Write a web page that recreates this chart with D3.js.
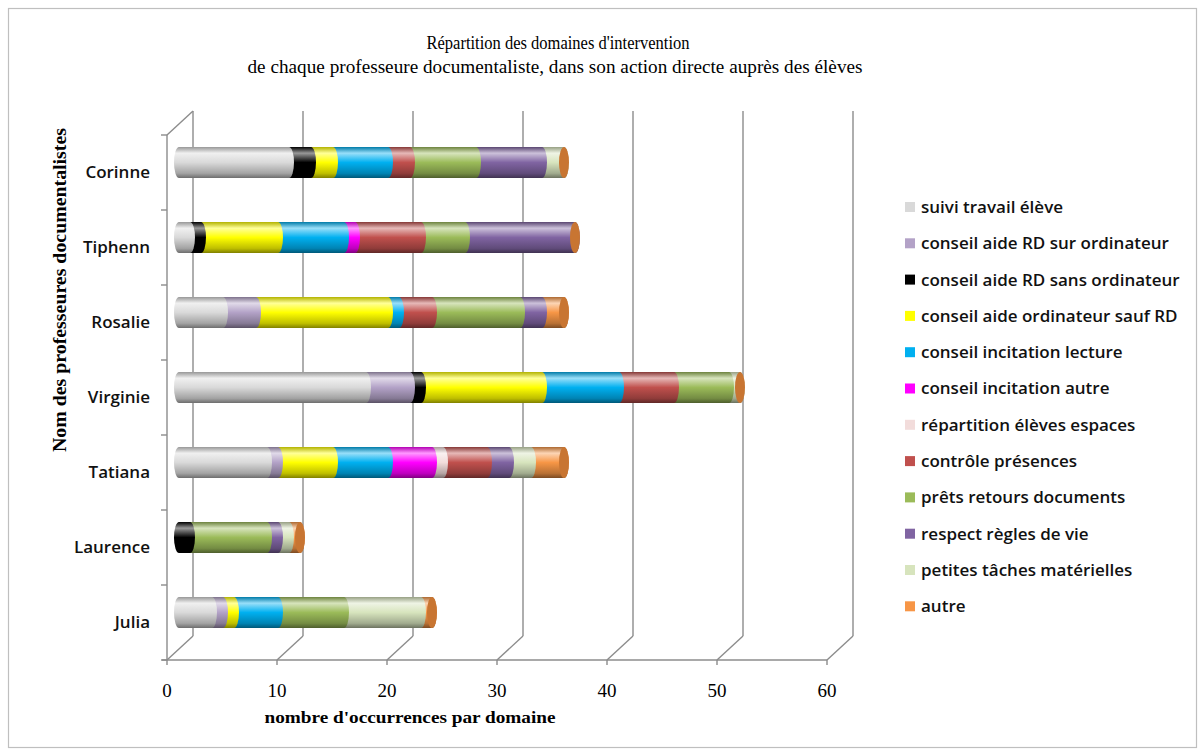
<!DOCTYPE html>
<html>
<head>
<meta charset="utf-8">
<script src="https://cdn.jsdelivr.net/npm/d3@7"></script>
<style>
  body { margin: 0; background: #fff; }
</style>
</head>
<body>
<div id="chart"></div>
<script>
// data (top to bottom)
var profs = ["Corinne", "Tiphenn", "Rosalie", "Virginie", "Tatiana", "Laurence", "Julia"];
var domaines = [
  "suivi travail élève",
  "conseil aide RD sur ordinateur",
  "conseil aide RD sans ordinateur",
  "conseil aide ordinateur sauf RD",
  "conseil incitation lecture",
  "conseil incitation autre",
  "répartition élèves espaces",
  "contrôle présences",
  "prêts retours documents",
  "respect règles de vie",
  "petites tâches matérielles",
  "autre"
];
var suivi       = [10, 1, 4, 17, 8, 0, 3];
var surOrdi     = [0, 0, 3, 4, 1, 0, 1];
var sansOrdi    = [2, 1, 0, 1, 0, 1, 0];
var ordiSaufRD  = [2, 7, 12, 11, 5, 0, 1];
var lecture     = [5, 6, 1, 7, 5, 0, 4];
var incitAutre  = [0, 1, 0, 0, 4, 0, 0];
var repartition = [0, 0, 0, 0, 1, 0, 0];
var controle    = [2, 6, 3, 5, 4, 0, 0];
var prets       = [6, 4, 8, 5, 0, 7, 6];
var respect     = [6, 10, 2, 0, 2, 1, 0];
var petites     = [2, 0, 0, 1, 2, 1, 7];
var autre       = [0, 0, 2, 0, 3, 1, 1];
var xTicks = [0, 10, 20, 30, 40, 50, 60];

var series = [suivi, surOrdi, sansOrdi, ordiSaufRD, lecture, incitAutre,
  repartition, controle, prets, respect, petites, autre];

var colors = ["#d9d9d9", "#b3a2c7", "#000000", "#ffff00", "#00b0f0", "#ff00ff",
  "#f2dcdb", "#c0504d", "#9bbb59", "#8064a2", "#d7e4bd", "#f79646"];

var width = 1204, height = 755;
var depthX = 26, depthY = -24;   // 3d wall offset
var barDX = 12, barDY = -10;     // bars sit mid-depth
var barR = 15.5, capRx = 5;

var svg = d3.select("#chart").append("svg")
  .attr("width", width).attr("height", height)
  .style("font-family", "Liberation Serif, serif");

// outer frame
svg.append("rect").attr("x", 8.5).attr("y", 8.5)
  .attr("width", 1188).attr("height", 739)
  .attr("fill", "#fff").attr("stroke", "#bfbfbf").attr("stroke-width", 1.2);

var x = d3.scaleLinear().domain([0, 60]).range([167, 827]);
var y = d3.scaleBand().domain(profs).range([135, 660]);

// rows for stacking
var rows = profs.map(function (p, i) {
  var r = { prof: p };
  domaines.forEach(function (k, j) { r[k] = series[j][i]; });
  return r;
});
var stacked = d3.stack().keys(domaines)(rows);

// gradients for the cylinder look
var defs = svg.append("defs");
colors.forEach(function (c, i) {
  var g = defs.append("linearGradient").attr("id", "g" + i)
    .attr("x1", 0).attr("y1", 0).attr("x2", 0).attr("y2", 1);
  var light = d3.interpolateRgb(c, "#ffffff");
  var dark = d3.interpolateRgb(c, "#000000");
  g.append("stop").attr("offset", "0%").attr("stop-color", dark(0.3));
  g.append("stop").attr("offset", "20%").attr("stop-color", light(0.6));
  g.append("stop").attr("offset", "50%").attr("stop-color", c);
  g.append("stop").attr("offset", "85%").attr("stop-color", dark(0.25));
  g.append("stop").attr("offset", "100%").attr("stop-color", dark(0.5));
});

// walls / grid
var grid = svg.append("g").attr("stroke", "#8c8c8c").attr("stroke-width", 1.4).attr("fill", "none");
var yTop = y.range()[0], yBot = y.range()[1];
xTicks.forEach(function (t) {
  grid.append("line")
    .attr("x1", x(t) + depthX).attr("x2", x(t) + depthX)
    .attr("y1", yTop + depthY).attr("y2", yBot + depthY);
  grid.append("line")
    .attr("x1", x(t)).attr("y1", yBot)
    .attr("x2", x(t) + depthX).attr("y2", yBot + depthY);
  grid.append("line")
    .attr("x1", x(t)).attr("x2", x(t)).attr("y1", yBot).attr("y2", yBot + 5);
});
// left wall
grid.append("line").attr("x1", x(0)).attr("x2", x(0)).attr("y1", yTop).attr("y2", yBot);
grid.append("line").attr("x1", x(0)).attr("y1", yTop)
  .attr("x2", x(0) + depthX).attr("y2", yTop + depthY);
// front axis
grid.append("line").attr("x1", x(0) - 5).attr("x2", x(60)).attr("y1", yBot).attr("y2", yBot);
// category ticks
d3.range(profs.length + 1).forEach(function (i) {
  var yy = yTop + i * y.step();
  grid.append("line").attr("x1", x(0) - 6).attr("x2", x(0)).attr("y1", yy).attr("y2", yy);
});

// bars
function segPath(a, b, cy) {
  return "M" + a + "," + (cy - barR) + "L" + b + "," + (cy - barR) +
    "A" + capRx + "," + barR + " 0 0 1 " + b + "," + (cy + barR) +
    "L" + a + "," + (cy + barR) +
    "A" + capRx + "," + barR + " 0 0 1 " + a + "," + (cy - barR) + "Z";
}

var bars = svg.append("g");
for (var s = stacked.length - 1; s >= 0; s--) {
  stacked[s].forEach(function (d) {
    if (d[1] - d[0] <= 0) return;
    var cy = y(d.data.prof) + y.bandwidth() / 2 + barDY;
    bars.append("path")
      .attr("d", segPath(x(d[0]) + barDX, x(d[1]) + barDX, cy))
      .attr("fill", "url(#g" + s + ")");
  });
}
// end caps
var last = stacked[stacked.length - 1];
last.forEach(function (d) {
  var cy = y(d.data.prof) + y.bandwidth() / 2 + barDY;
  bars.append("ellipse")
    .attr("cx", x(d[1]) + barDX).attr("cy", cy)
    .attr("rx", capRx).attr("ry", barR)
    .attr("fill", "#c87532");
});

// x tick labels
svg.append("g").selectAll("text").data(xTicks).join("text")
  .attr("x", function (d) { return x(d); })
  .attr("y", 697)
  .attr("text-anchor", "middle")
  .attr("font-size", "19px")
  .attr("fill", "#000")
  .text(function (d) { return d; });

// category labels
svg.append("g").selectAll("text").data(profs).join("text")
  .attr("x", 150)
  .attr("y", function (d) { return y(d) + y.bandwidth() / 2; })
  .attr("dy", "0.35em")
  .attr("text-anchor", "end")
  .attr("font-family", "Open Sans, sans-serif")
  .attr("font-weight", 600)
  .attr("font-size", "17px")
  .attr("fill", "#111")
  .text(function (d) { return d; });

// titles
svg.append("text").attr("x", 558).attr("y", 49).attr("text-anchor", "middle")
  .attr("font-size", "18.5px").attr("textLength", 263).attr("lengthAdjust", "spacingAndGlyphs")
  .text("Répartition des domaines d'intervention");
svg.append("text").attr("x", 555).attr("y", 73).attr("text-anchor", "middle")
  .attr("font-size", "18.5px").attr("textLength", 615).attr("lengthAdjust", "spacingAndGlyphs")
  .text("de chaque professeure documentaliste, dans son action directe auprès des élèves");

svg.append("text").attr("x", 410).attr("y", 723).attr("text-anchor", "middle")
  .attr("font-size", "16px").attr("font-weight", "bold")
  .attr("textLength", 291).attr("lengthAdjust", "spacingAndGlyphs")
  .text("nombre d'occurrences par domaine");

svg.append("text")
  .attr("transform", "translate(66,290) rotate(-90)")
  .attr("text-anchor", "middle")
  .attr("font-size", "18px").attr("font-weight", "bold")
  .attr("textLength", 324).attr("lengthAdjust", "spacingAndGlyphs")
  .text("Nom des professeures documentalistes");

// legend
var legend = svg.append("g").selectAll("g").data(domaines).join("g")
  .attr("transform", function (d, i) { return "translate(905," + (207 + i * 36.3) + ")"; });
legend.append("rect").attr("x", 0).attr("y", -5).attr("width", 10).attr("height", 10)
  .attr("fill", function (d, i) { return colors[i]; });
legend.append("text").attr("x", 16).attr("dy", "0.35em")
  .attr("font-family", "Open Sans, sans-serif")
  .attr("font-weight", 600)
  .attr("font-size", "17px")
  .attr("fill", "#111")
  .text(function (d) { return d; });
</script>
</body>
</html>
